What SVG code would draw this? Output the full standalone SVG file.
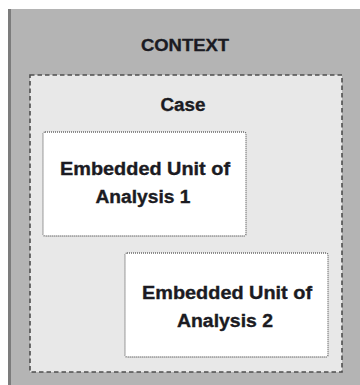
<svg xmlns="http://www.w3.org/2000/svg" width="360" height="385" viewBox="0 0 360 385">
<style>
.t{font-family:"Liberation Sans",Arial,sans-serif;font-weight:bold;fill:#1b1b22;stroke:#1b1b22;stroke-width:0.35;text-anchor:middle}
.unit{fill:#ffffff;stroke:#6a6a6a;stroke-width:1.3;stroke-dasharray:1 1}
</style>
<rect x="0" y="0" width="360" height="385" fill="#ffffff"/>
<g id="context">
<rect x="9" y="9" width="351" height="376" fill="#b4b4b4"/>
<rect x="8" y="9" width="3" height="376" fill="#7c7c7c"/>
<text class="t" x="185" y="51" font-size="17" textLength="88" lengthAdjust="spacingAndGlyphs">CONTEXT</text>
</g>
<g id="case">
<rect x="30" y="75" width="312" height="297" fill="#e8e8e8" stroke="#4e4e4e" stroke-width="1.6" stroke-dasharray="4.5 3"/>
<text class="t" x="183" y="111" font-size="18" textLength="45" lengthAdjust="spacingAndGlyphs">Case</text>
</g>
<g id="unit1">
<rect class="unit" x="43" y="132" width="203" height="104" rx="2"/>
<text class="t" x="145" y="175" font-size="18" textLength="170" lengthAdjust="spacingAndGlyphs">Embedded Unit of</text>
<text class="t" x="143" y="203" font-size="18" textLength="95" lengthAdjust="spacingAndGlyphs">Analysis 1</text>
</g>
<g id="unit2">
<rect class="unit" x="125" y="253" width="203" height="104" rx="2"/>
<text class="t" x="227" y="299" font-size="18" textLength="170" lengthAdjust="spacingAndGlyphs">Embedded Unit of</text>
<text class="t" x="225" y="327" font-size="18" textLength="96" lengthAdjust="spacingAndGlyphs">Analysis 2</text>
</g>
<g id="connectors"></g>
</svg>
